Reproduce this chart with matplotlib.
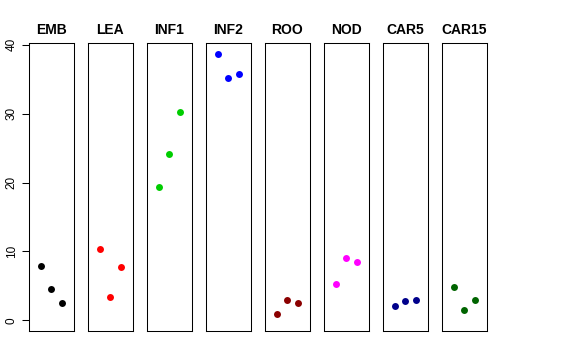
import numpy as np
import matplotlib.pyplot as plt

plt.rcParams['font.family'] = ['Liberation Sans', 'DejaVu Sans']

# tissues and their three replicate values
tissues = ['EMB', 'LEA', 'INF1', 'INF2', 'ROO', 'NOD', 'CAR5', 'CAR15']
emb = [7.87, 4.58, 2.51]
lea = [10.38, 3.42, 7.77]
inf1 = [19.42, 24.14, 30.19]
inf2 = [38.70, 35.12, 35.80]
roo = [0.96, 2.94, 2.51]
nod = [5.31, 9.07, 8.45]
car5 = [2.12, 2.75, 2.90]
car15 = [4.78, 1.49, 2.94]
values = [emb, lea, inf1, inf2, roo, nod, car5, car15]
colors = ['black', 'red', '#00CD00', 'blue', '#8B0000', 'magenta', '#00008B', '#006400']
yticks = [0, 10, 20, 30, 40]

# shared y range: 0..max with R style 4% padding
ymax = max(max(v) for v in values)
pad = 0.04 * ymax
ylim = (-pad, ymax + pad)

fig = plt.figure(figsize=(5.76, 3.6), dpi=100)
W, H = 576.0, 360.0
left0 = 29.0
pitch = 59.0
pw = 44.5
bottom = 1 - 331 / H
height = 288 / H

for i, (name, v, c) in enumerate(zip(tissues, values, colors)):
    ax = fig.add_axes([(left0 + i * pitch) / W, bottom, pw / W, height])
    x = np.arange(1, len(v) + 1)
    ax.plot(x, v, 'o', color=c, markersize=5, markeredgewidth=0)
    ax.set_xlim(-0.16, 4.16)
    ax.set_ylim(*ylim)
    ax.set_xticks([])
    ax.set_title(name, fontsize=10, fontweight='bold', pad=6.5)
    for s in ax.spines.values():
        s.set_linewidth(0.75)
    if i == 0:
        ax.set_yticks(yticks)
        ax.set_yticklabels([str(t) for t in yticks], rotation=90, va='center', fontsize=8.5)
        ax.tick_params(axis='y', length=5, width=0.75, pad=3)
    else:
        ax.set_yticks([])

fig.savefig('out.png', dpi=100)
